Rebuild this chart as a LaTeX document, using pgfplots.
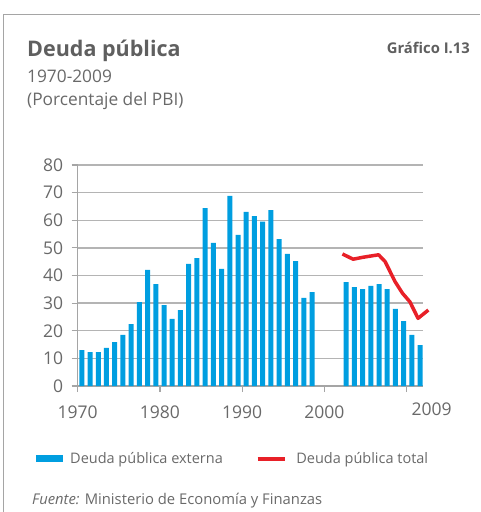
\documentclass[border=0pt]{standalone}
\usepackage{pgfplots}
\pgfplotsset{compat=1.18}
\usepackage{fontspec}
\setmainfont{Open Sans}
\definecolor{barblue}{RGB}{0,158,224}
\definecolor{lred}{RGB}{232,32,40}
\definecolor{txt}{RGB}{105,105,105}
\definecolor{ttl}{RGB}{95,95,95}
\definecolor{gridc}{RGB}{180,180,180}
\definecolor{axc}{RGB}{165,165,165}
\begin{document}
\begin{tikzpicture}[x=1pt,y=1pt]
\useasboundingbox (0,0) rectangle (480,512);
\draw[axc, line width=1.2pt] (3.3,0) -- (3.3,497.3) -- (480,497.3);
\node[anchor=base west, inner sep=0pt, text=ttl, font=\fontsize{21.5}{25}\selectfont\bfseries] at (27,455.3) {Deuda pública};
\node[anchor=base east, inner sep=0pt, text=ttl, font=\fontsize{14.8}{17}\selectfont\bfseries] at (470,458.7) {Gráfico I.13};
\node[anchor=base west, inner sep=0pt, text=txt, font=\fontsize{17.3}{20}\selectfont] at (27,429.3) {1970-2009};
\node[anchor=base west, inner sep=0pt, text=txt, font=\fontsize{17.3}{20}\selectfont] at (27,406) {(Porcentaje del PBI)};
\node[anchor=base west, inner sep=0pt, text=txt, font=\fontsize{14.8}{17}\selectfont] at (32,8) {\textit{Fuente:} Ministerio de Economía y Finanzas};
\begin{axis}[
  at={(77.7pt,126pt)}, anchor=south west,
  scale only axis, width=345.3pt, height=221pt,
  xmin=0, xmax=42, ymin=0, ymax=80,
  axis x line=bottom, axis y line=left,
  axis line style={axc, line width=1.2pt, -},
  xtick={0,10,20,30,40}, xticklabels={1970,1980,1990,2000,{}},
  ytick={0,10,...,80},
  ymajorgrids, grid style={gridc, line width=1.3pt},
  tick align=outside, major tick length=6pt,
  tick style={axc, line width=1.2pt},
  /pgf/number format/assume math mode=true,
  ticklabel style={text=txt, font=\fontsize{17.5}{20}\selectfont},
  xticklabel style={yshift=-10pt},
  yticklabel style={xshift=-5pt},
  clip=false,
  legend columns=2,
  legend style={at={(-0.1208,-0.330)}, anchor=west, draw=none, fill=none, inner sep=0pt,
    nodes={inner sep=0pt, text=txt, font=\fontsize{14.5}{17}\selectfont}},
]
\addplot[ybar, bar width=5pt, fill=barblue, draw=none,
  legend image code/.code={\fill[barblue] (0pt,-3.5pt) rectangle (27pt,3.5pt); \path (34pt,0pt);}]
 coordinates {
 (0.5,13.0) (1.5,12.3) (2.5,12.3) (3.5,13.8) (4.5,15.9) (5.5,18.5) (6.5,22.4) (7.5,30.4)
 (8.5,42.0) (9.5,36.9) (10.5,29.3) (11.5,24.3) (12.5,27.5) (13.5,44.2) (14.5,46.3)
 (15.5,64.4) (16.5,51.8) (17.5,42.4) (18.5,68.8) (19.5,54.7) (20.5,63.0) (21.5,61.5)
 (22.5,59.5) (23.5,63.7) (24.5,53.2) (25.5,47.8) (26.5,45.2) (27.5,31.9) (28.5,34.0)
 (32.65,37.6) (33.65,35.8) (34.65,35.1) (35.65,36.2) (36.65,36.9) (37.65,35.1)
 (38.65,27.9) (39.65,23.5) (40.65,18.5) (41.65,14.8)
 };
\addlegendentry{Deuda pública externa\rule{33pt}{0pt}}
\addplot[lred, line width=3.5pt, line join=round,
  legend image code/.code={\draw[lred, line width=3.5pt] (0pt,0pt) -- (27pt,0pt); \path (37pt,0pt);}]
 coordinates {
 (32.2,47.8) (33.5,45.9) (34.7,46.6) (36.6,47.5) (37.4,45.0) (38.6,37.8)
 (39.5,33.6) (40.4,30.5) (41.4,24.5) (42.65,27.5)
 };
\addlegendentry{Deuda pública total}
\node[anchor=north, inner sep=0pt, text=txt, font=\fontsize{17.5}{20}\selectfont] at (axis cs:43.06,0) [yshift=-17pt] {2009};
\end{axis}
\end{tikzpicture}
\end{document}
